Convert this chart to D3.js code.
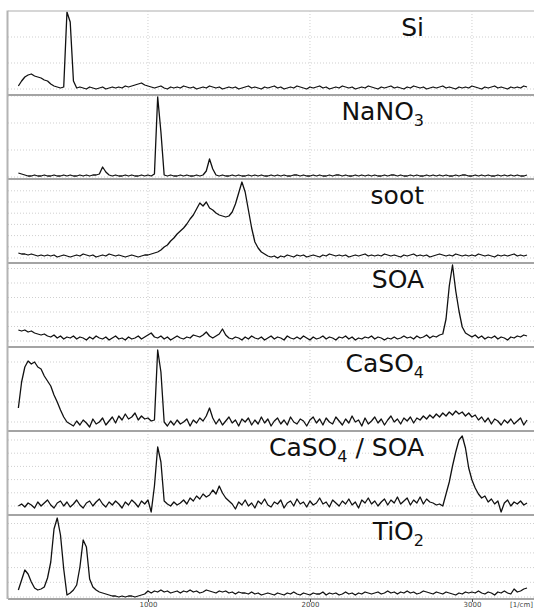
<!DOCTYPE html>
<html>
<head>
<meta charset="utf-8">
<script src="https://cdn.jsdelivr.net/npm/d3@7"></script>
<style>
  html, body { margin: 0; padding: 0; background: #fff; }
  svg { display: block; font-family: "DejaVu Sans", sans-serif; }
</style>
</head>
<body>
<svg id="chart" width="534" height="609"></svg>
<script>
// Raman spectra on a common wavenumber grid: 200 … 3340 cm^-1, every 20 cm^-1.
const wnStart = 200;
const wnStep = 20;

// Intensities in arbitrary units, one array per sample.
const siSpectrum = [
  3, 8, 12, 14, 15, 13, 12, 11, 9, 8,
  5, 3, 2, 1, 2, 77, 67, 8, 1, 2,
  1, 0, 2, 1, 0, 1, 2, 0, 1, 2,
  1, 2, 1, 3, 2, 3, 4, 5, 6, 4,
  3, 2, 1, 2, 3, 1, 0, 2, 1, 2,
  1, 3, 2, 1, 2, 0, 1, 2, 1, 3,
  2, 1, 2, 0, 1, 2, 1, 2, 0, 1,
  2, 3, 1, 2, 1, 0, 2, 1, 2, 3,
  1, 2, 0, 1, 2, 1, 3, 2, 1, 0,
  2, 1, 2, 3, 1, 2, 0, 1, 2, 1,
  3, 2, 1, 2, 0, 1, 2, 1, 3, 2,
  1, 0, 2, 1, 2, 3, 1, 2, 1, 0,
  2, 1, 3, 2, 1, 2, 0, 1, 2, 1,
  2, 3, 1, 2, 1, 0, 2, 1, 2, 1,
  3, 2, 1, 0, 2, 1, 2, 3, 1, 2,
  1, 0, 2, 1, 2, 1, 3, 2
];

const nano3Spectrum = [
  4, 3, 2, 1, 1, 2, 1, 1, 2, 1,
  1, 2, 1, 1, 2, 1, 2, 1, 1, 2,
  1, 2, 1, 2, 2, 3, 10, 5, 2, 1,
  2, 1, 1, 2, 1, 2, 1, 1, 2, 1,
  2, 1, 3, 80, 45, 2, 1, 2, 1, 1,
  2, 1, 2, 1, 1, 2, 1, 2, 6, 18,
  8, 2, 1, 2, 1, 1, 2, 1, 2, 1,
  1, 2, 1, 2, 1, 2, 1, 1, 2, 1,
  2, 1, 2, 1, 1, 2, 2, 1, 2, 1,
  1, 2, 1, 2, 1, 1, 2, 1, 2, 2,
  1, 2, 1, 1, 2, 1, 2, 1, 2, 1,
  2, 1, 1, 2, 1, 2, 2, 1, 2, 1,
  1, 2, 1, 2, 1, 1, 2, 1, 2, 1,
  2, 1, 2, 1, 1, 2, 1, 2, 2, 1,
  1, 2, 1, 2, 1, 2, 1, 1, 2, 1,
  2, 1, 2, 1, 2, 1, 1, 2
];

const sootSpectrum = [
  5, 4, 4, 3, 4, 3, 2, 3, 2, 3,
  2, 3, 1, 2, 3, 2, 1, 2, 3, 2,
  4, 3, 2, 3, 1, 2, 3, 2, 4, 3,
  2, 3, 2, 1, 2, 3, 2, 1, 2, 3,
  3, 4, 5, 6, 8, 11, 13, 17, 20, 24,
  27, 30, 34, 39, 43, 49, 55, 52, 56, 50,
  48, 45, 43, 42, 41, 42, 46, 54, 65, 76,
  66, 48, 30, 16, 10, 6, 4, 2, 1, 2,
  0, 2, 1, 3, 2, 1, 3, 2, 3, 1,
  2, 3, 2, 1, 3, 2, 4, 3, 2, 3,
  2, 3, 1, 2, 3, 2, 3, 4, 2, 3,
  2, 3, 2, 4, 3, 2, 3, 2, 1, 3,
  2, 3, 4, 2, 3, 2, 3, 1, 2, 3,
  4, 3, 2, 3, 2, 4, 3, 2, 3, 2,
  3, 2, 4, 3, 2, 3, 2, 1, 3, 2,
  3, 2, 3, 4, 2, 3, 2, 3
];

const soaSpectrum = [
  11, 10, 11, 9, 10, 8, 7, 6, 7, 5,
  4, 6, 3, 5, 2, 4, 3, 5, 2, 4,
  3, 1, 4, 2, 5, 3, 2, 4, 1, 3,
  5, 2, 3, 1, 4, 2, 3, 5, 2, 4,
  6, 8, 4, 3, 5, 2, 4, 1, 3, 5,
  3, 2, 4, 3, 6, 5, 4, 6, 9, 5,
  3, 5, 7, 12, 6, 3, 2, 4, 3, 1,
  4, 2, 5, 3, 2, 4, 1, 3, 5, 2,
  4, 3, 1, 5, 3, 2, 4, 2, 5, 3,
  1, 4, 2, 3, 5, 2, 4, 3, 1, 4,
  3, 5, 2, 4, 1, 3, 2, 4, 3, 5,
  2, 4, 3, 1, 3, 2, 4, 2, 3, 5,
  3, 4, 2, 5, 3, 4, 6, 3, 5, 4,
  6, 7, 22, 55, 76, 50, 30, 14, 8, 6,
  4, 6, 3, 5, 2, 4, 3, 5, 2, 4,
  3, 1, 4, 3, 5, 4, 6, 5
];

const caso4Spectrum = [
  14, 40, 55, 61, 58, 60, 55, 53, 46, 41,
  36, 27, 20, 12, 5, 0, -2, -4, 1, -3,
  2, -1, -5, 3, -2, 0, 4, -3, 1, 5,
  -1, 6, 2, 8, 3, 5, 9, 2, 6, 3,
  4, 1, 2, 72, 50, 0, -4, 1, -3, 2,
  -2, 0, 3, -4, 2, -1, 4, 1, 6, 14,
  4, -2, 3, -3, 1, 5, -1, 2, -4, 3,
  0, 4, -3, 2, -2, 5, -1, 3, -4, 1,
  4, -2, 2, -3, 5, 0, -2, 3, 1, -4,
  2, 5, -1, 3, -3, 4, 0, -2, 5, 1,
  -3, 3, -1, 6, 0, 2, -4, 4, -2, 1,
  5, -1, 3, -3, 2, 6, 0, 3, -2, 4,
  1, 5, -1, 4, 2, 6, 3, 7, 4, 8,
  5, 9, 6, 10, 7, 11, 8, 10, 6, 9,
  5, 7, 2, 5, 0, 4, -2, 3, 1, -3,
  2, -1, 3, -2, 1, 4, -3, 2
];

const caso4SoaSpectrum = [
  0, 2, -1, 3, 1, -2, 4, 0, 3, 6,
  1, -2, 3, 5, 0, 4, -1, 2, 6, 1,
  -2, 3, 5, 0, 4, 7, 2, -1, 4, 1,
  5, 2, -2, 4, 1, 6, 3, -1, 5, 2,
  6, -6, 20, 59, 44, 5, 2, 0, 4, 1,
  3, 6, 2, 8, 5, 10, 7, 12, 9, 11,
  16, 12, 20, 13, 8, 5, 2, -3, 4, 1,
  6, 0, 3, -2, 5, 2, 7, 1, -1, 4,
  2, 6, -2, 3, 5, 0, 7, 2, 4, -1,
  5, 1, 3, 8, 2, 4, -1, 6, 3, 0,
  5, 2, 7, 1, 4, -2, 6, 3, 8, 2,
  5, 0, 4, 7, 1, 6, 3, 9, 2, 5,
  8, 1, 6, 3, 9, 2, 7, 4, 3, 1,
  2, 0, 12, 24, 40, 54, 66, 70, 58, 38,
  26, 18, 12, 8, 10, 4, 7, 2, 5, -6,
  3, 6, 0, 4, 2, 5, 1, 3
];

const tio2Spectrum = [
  7, 17, 27, 23, 15, 9, 7, 8, 10, 19,
  35, 68, 79, 62, 28, 2, 4, 7, 12, 30,
  57, 50, 18, 10, 7, 5, 4, 3, 2, 1,
  1, 0, 1, 0, 1, 1, 0, 1, 2, 3,
  6, 4, 6, 5, 7, 5, 6, 4, 5, 6,
  4, 6, 5, 7, 5, 6, 4, 5, 7, 6,
  5, 4, 6, 5, 6, 4, 5, 3, 5, 4,
  4, 3, 5, 3, 4, 2, 3, 4, 3, 2,
  4, 3, 2, 4, 3, 5, 3, 2, 4, 3,
  2, 4, 3, 3, 5, 2, 4, 3, 4, 2,
  3, 5, 3, 4, 2, 4, 3, 5, 4, 3,
  4, 5, 3, 4, 6, 4, 5, 3, 5, 4,
  6, 4, 5, 3, 4, 6, 5, 4, 3, 5,
  4, 3, 5, 4, 3, 2, 4, 3, 5, 4,
  5, 4, 6, 4, 3, 5, 4, 2, 5, 4,
  6, 4, 3, 8, 5, 6, 8, 9
];

// Sample names (digits are set as subscripts) and their spectra, top to bottom.
const sampleNames = ["Si", "NaNO3", "soot", "SOA", "CaSO4", "CaSO4 / SOA", "TiO2"];
const spectra = [siSpectrum, nano3Spectrum, sootSpectrum, soaSpectrum,
                 caso4Spectrum, caso4SoaSpectrum, tio2Spectrum];

// Intensity range shown in each panel and spacing of its horizontal grid.
const intensityRanges = [[-6, 78], [-2, 82], [-5, 79], [-6, 78], [-9, 75], [-9, 75], [-2, 82]];
const gridSteps = [26, 27, 11.2, 14.5, 20, 13.2, 14.7];

// Wavenumber axis.
const wnDomain = [136, 3383];
const wnTicks = [1000, 2000, 3000];
const wnUnit = "[1/cm]";

// ---- layout ----
const left = 8, right = 534, top0 = 11, panelH = 84;
const nPanels = spectra.length;
const bottom = top0 + panelH * nPanels;

const svg = d3.select("#chart");

const x = d3.scaleLinear().domain(wnDomain).range([left, right]);

spectra.forEach((values, p) => {
  const top = top0 + p * panelH;
  const [lo, hi] = intensityRanges[p];
  const y = d3.scaleLinear().domain([lo, hi]).range([top + panelH, top]);
  const g = svg.append("g").attr("class", "panel");

  // horizontal dotted grid
  g.selectAll("line.hgrid")
    .data(d3.range(0, hi, gridSteps[p]))
    .join("line")
    .attr("class", "hgrid")
    .attr("x1", left).attr("x2", right)
    .attr("y1", d => y(d)).attr("y2", d => y(d))
    .attr("stroke", "#cfcfcf")
    .attr("stroke-width", 1)
    .attr("stroke-dasharray", "1,2");

  // vertical dotted grid
  g.selectAll("line.vgrid")
    .data(wnTicks)
    .join("line")
    .attr("class", "vgrid")
    .attr("x1", d => x(d)).attr("x2", d => x(d))
    .attr("y1", top).attr("y2", top + panelH)
    .attr("stroke", "#cfcfcf")
    .attr("stroke-width", 1)
    .attr("stroke-dasharray", "1,2");

  // spectrum
  const line = d3.line()
    .x((d, i) => x(wnStart + i * wnStep))
    .y(d => y(d));
  g.append("path")
    .datum(values)
    .attr("d", line)
    .attr("fill", "none")
    .attr("stroke", "#111")
    .attr("stroke-width", 1.3)
    .attr("stroke-linejoin", "round");

  // sample name with subscripted digits
  const label = g.append("text")
    .attr("x", 424)
    .attr("y", top + 25)
    .attr("text-anchor", "end")
    .attr("font-size", 25)
    .attr("fill", "#111");
  const parts = sampleNames[p].split(/(\d+)/).filter(s => s.length);
  let shifted = false;
  parts.forEach(s => {
    const isSub = /^\d+$/.test(s);
    const t = label.append("tspan").text(s);
    if (isSub) {
      t.attr("font-size", 16).attr("dy", 6);
      shifted = true;
    } else if (shifted) {
      t.attr("dy", -6);
      shifted = false;
    }
  });
});

// panel frames
svg.append("line")
  .attr("x1", left).attr("x2", right)
  .attr("y1", top0).attr("y2", top0)
  .attr("stroke", "#c8c8c8").attr("stroke-width", 1.5);

svg.selectAll("line.sep")
  .data(d3.range(1, nPanels + 1))
  .join("line")
  .attr("class", "sep")
  .attr("x1", left).attr("x2", right)
  .attr("y1", i => top0 + i * panelH).attr("y2", i => top0 + i * panelH)
  .attr("stroke", "#a4a4a4").attr("stroke-width", 2);

svg.append("line")
  .attr("x1", left - 0.5).attr("x2", left - 0.5)
  .attr("y1", top0 - 0.5).attr("y2", bottom)
  .attr("stroke", "#b4b4b4").attr("stroke-width", 2);

// wavenumber axis
const axis = svg.append("g")
  .attr("transform", `translate(0,${bottom})`)
  .call(d3.axisBottom(x)
    .tickValues(wnTicks)
    .tickFormat(d3.format("d"))
    .tickSize(3)
    .tickSizeOuter(0)
    .tickPadding(0));
axis.select(".domain").remove();
axis.selectAll(".tick line").attr("stroke", "#444");
axis.selectAll(".tick text")
  .attr("font-size", 7)
  .attr("font-family", "DejaVu Sans, sans-serif")
  .attr("fill", "#444");

svg.append("text")
  .attr("x", 533)
  .attr("y", bottom + 8)
  .attr("text-anchor", "end")
  .attr("font-size", 7)
  .attr("fill", "#444")
  .text(wnUnit);
</script>
</body>
</html>
